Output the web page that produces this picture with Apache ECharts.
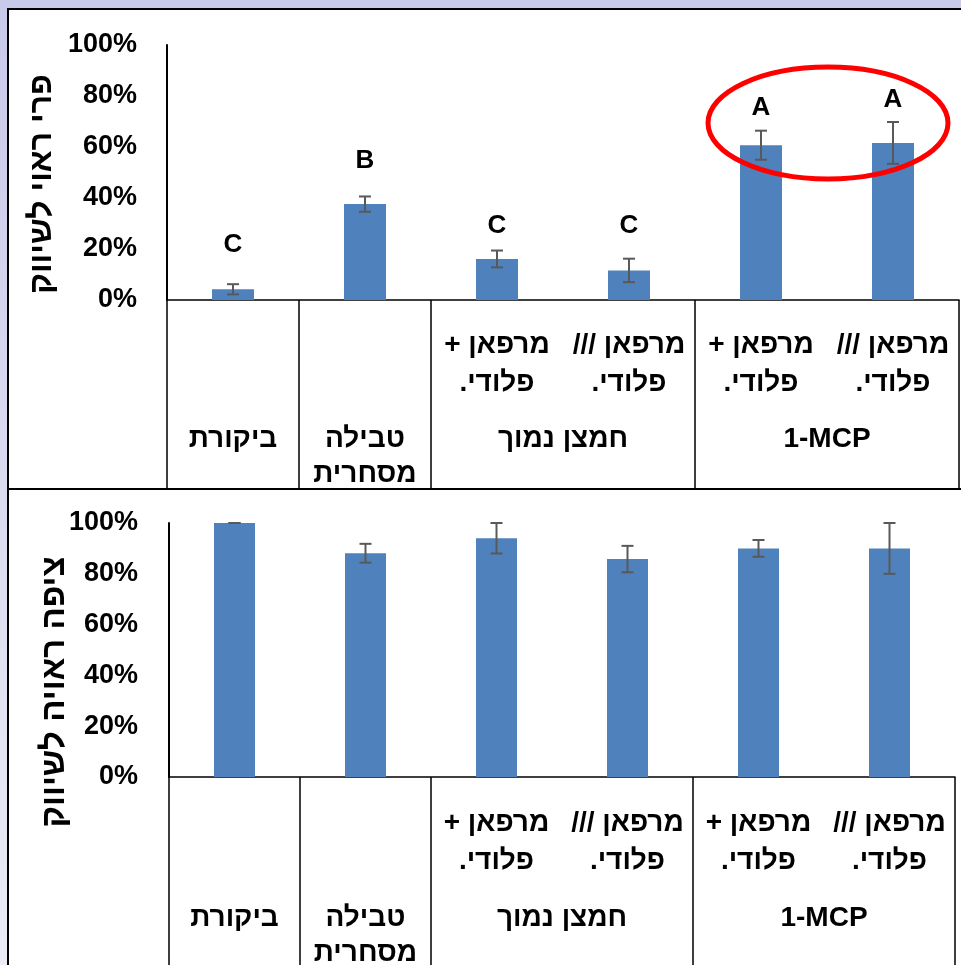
<!DOCTYPE html>
<html>
<head>
<meta charset="utf-8">
<script src="https://cdn.jsdelivr.net/npm/echarts@6/dist/echarts.min.js"></script>
<style>
	html, body { margin: 0; padding: 0; }
	#grafico { width: 961px; height: 965px; }
</style>
</head>
<body>
<div id="grafico" dir="rtl"></div>
<script>
// categorias (nível inferior) e grupos (nível superior)
const subLabels = ['', '', 'מרפאן +\nפלודי.', 'מרפאן ///\nפלודי.', 'מרפאן +\nפלודי.', 'מרפאן ///\nפלודי.'];
const groupNames = ['ביקורת', 'טבילה\nמסחרית', 'חמצן נמוך', '\u200E1-MCP'];
const groupSpans = [1, 1, 2, 2];

// gráfico de cima: פרי ראוי לשיווק (%)
const fruitValues = [4.2, 37.6, 16.1, 11.6, 60.7, 61.6];
const fruitErr = [2.0, 3.0, 3.3, 4.6, 5.7, 8.2];
const fruitLetters = ['C', 'B', 'C', 'C', 'A', 'A'];
const fruitLetterPos = [21.6, 54.5, 29.0, 29.0, 75.3, 78.4];

// gráfico de baixo: ציפה ראויה לשיווק (%)
const pulpValues = [100, 88.1, 94.0, 85.8, 90.0, 90.0];
const pulpErr = [0, 3.7, 6.0, 5.2, 3.3, 10.0];

const FONTE = "'Liberation Sans', 'DejaVu Sans', Arial, sans-serif";
const AZUL = '#4f81bd';

// eixo dos grupos: 2*n+1 posições, rótulo no centro de cada grupo
function montarGrupos() {
	const arr = new Array(subLabels.length * 2 + 1).fill('');
	let ini = 0;
	groupNames.forEach((nome, i) => {
		arr[2 * ini + groupSpans[i]] = nome;
		ini += groupSpans[i];
	});
	return arr;
}
// divisórias: início de cada grupo (o echarts acrescenta o fim)
const inicioGrupos = [];
groupSpans.reduce((acc, s) => { inicioGrupos.push(acc); return acc + s; }, 0);

function renderErro(params, api) {
	const x = api.value(0);
	const lo = api.value(1);
	const hi = api.value(2);
	const p1 = api.coord([x, hi]);
	const p2 = api.coord([x, lo]);
	const w = 6;
	const style = { stroke: '#595959', lineWidth: 2 };
	return {
		type: 'group',
		children: [
			{ type: 'line', shape: { x1: p1[0], y1: p1[1], x2: p2[0], y2: p2[1] }, style },
			{ type: 'line', shape: { x1: p1[0] - w, y1: p1[1], x2: p1[0] + w, y2: p1[1] }, style },
			{ type: 'line', shape: { x1: p2[0] - w, y1: p2[1], x2: p2[0] + w, y2: p2[1] }, style }
		]
	};
}

function renderLetra(params, api) {
	const p = api.coord([api.value(0), api.value(1)]);
	return {
		type: 'text',
		x: p[0],
		y: p[1],
		style: {
			text: fruitLetters[params.dataIndex],
			fill: '#000',
			font: 'bold 26px ' + FONTE,
			textAlign: 'center',
			textVerticalAlign: 'middle'
		}
	};
}

function eixoX(grid, margem, tickLen) {
	return {
		type: 'category',
		gridIndex: grid,
		data: subLabels,
		position: 'bottom',
		axisLine: { lineStyle: { color: '#000', width: 1.5 } },
		axisTick: {
			show: true,
			length: tickLen,
			interval: (i) => inicioGrupos.includes(i),
			lineStyle: { color: '#000', width: 1.5 }
		},
		axisLabel: {
			interval: 0,
			margin: margem,
			color: '#000',
			fontSize: 28,
			fontWeight: 'bold',
			fontFamily: FONTE,
			lineHeight: 38
		}
	};
}

function eixoGrupo(grid, margem) {
	return {
		type: 'category',
		gridIndex: grid,
		boundaryGap: false,
		data: montarGrupos(),
		position: 'bottom',
		axisLine: { show: false },
		axisTick: { show: false },
		axisLabel: {
			interval: 0,
			margin: margem,
			color: '#000',
			fontSize: 28,
			fontWeight: 'bold',
			fontFamily: FONTE,
			lineHeight: 35
		}
	};
}

function eixoY(grid, margem) {
	return {
		type: 'value',
		gridIndex: grid,
		min: 0,
		max: 100,
		interval: 20,
		splitLine: { show: false },
		axisTick: { show: false },
		axisLine: { show: true, lineStyle: { color: '#000', width: 2 } },
		axisLabel: {
			formatter: '{value}%',
			margin: margem,
			padding: [4, 0, 0, 0],
			color: '#000',
			fontSize: 27,
			fontWeight: 'bold',
			fontFamily: FONTE
		}
	};
}

const grafico = echarts.init(document.getElementById('grafico'));

const option = {
	animation: false,
	backgroundColor: {
		type: 'linear', x: 0, y: 0, x2: 0, y2: 1,
		colorStops: [{ offset: 0, color: '#c9c9e9' }, { offset: 1, color: '#ececf6' }]
	},
	grid: [
		{ left: 167, right: 2, top: 45, bottom: 665, outerBoundsMode: 'none' },
		{ left: 169, right: 6, top: 523, bottom: 188, outerBoundsMode: 'none' }
	],
	xAxis: [
		eixoX(0, 26, 189),
		eixoGrupo(0, 122),
		eixoX(1, 27, 200),
		eixoGrupo(1, 124)
	],
	yAxis: [eixoY(0, 30), eixoY(1, 31)],
	graphic: [
		{
			type: 'rect', z: -10,
			shape: { x: 8, y: 9, width: 970, height: 480 },
			style: { fill: '#fff', stroke: '#000', lineWidth: 2 }
		},
		{
			type: 'rect', z: -10,
			shape: { x: 8, y: 489, width: 970, height: 500 },
			style: { fill: '#fff', stroke: '#000', lineWidth: 2 }
		},
		{
			type: 'text', x: 42, y: 184, rotation: Math.PI / 2,
			style: {
				text: 'פרי ראוי לשיווק', fill: '#000',
				font: 'bold 32px ' + FONTE,
				textAlign: 'center', textVerticalAlign: 'middle'
			}
		},
		{
			type: 'text', x: 55, y: 692, rotation: Math.PI / 2,
			style: {
				text: 'ציפה ראויה לשיווק', fill: '#000',
				font: 'bold 33px ' + FONTE,
				textAlign: 'center', textVerticalAlign: 'middle'
			}
		},
		{
			type: 'ellipse', z: 100,
			shape: { cx: 828, cy: 123, rx: 120, ry: 56 },
			style: { fill: 'none', stroke: '#ff0000', lineWidth: 5 }
		}
	],
	series: [
		{
			type: 'bar', xAxisIndex: 0, yAxisIndex: 0,
			data: fruitValues, barWidth: 42,
			itemStyle: { color: AZUL }
		},
		{
			type: 'custom', xAxisIndex: 0, yAxisIndex: 0,
			renderItem: renderErro, z: 5,
			data: fruitValues.map((v, i) => [i, v - fruitErr[i], v + fruitErr[i]])
		},
		{
			type: 'custom', xAxisIndex: 0, yAxisIndex: 0,
			renderItem: renderLetra, z: 6,
			data: fruitLetterPos.map((p, i) => [i, p])
		},
		{
			type: 'bar', xAxisIndex: 2, yAxisIndex: 1,
			data: pulpValues, barWidth: 41,
			itemStyle: { color: AZUL }
		},
		{
			type: 'custom', xAxisIndex: 2, yAxisIndex: 1,
			renderItem: renderErro, z: 5,
			data: pulpValues.map((v, i) => [i, v - pulpErr[i], v + pulpErr[i]])
		}
	]
};

grafico.setOption(option);
</script>
</body>
</html>
